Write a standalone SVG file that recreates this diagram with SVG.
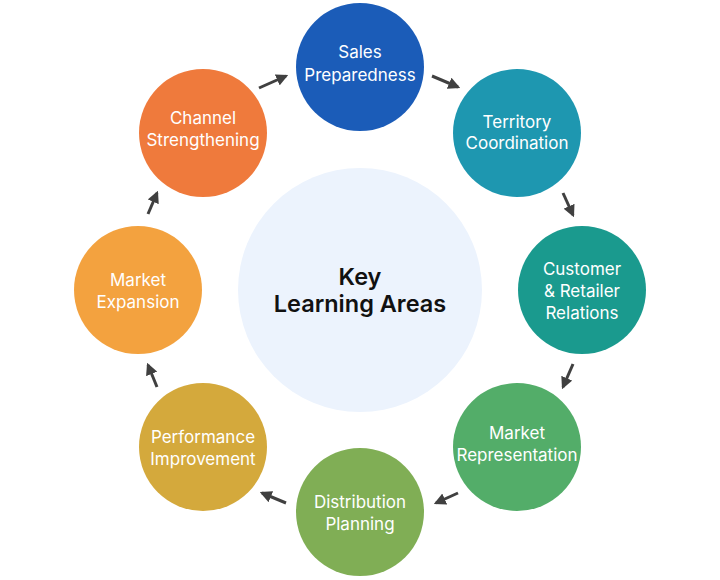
<svg xmlns="http://www.w3.org/2000/svg" width="720" height="580" viewBox="0 0 720 580">
<defs>
<marker id="ah" viewBox="0 0 10 10" refX="8" refY="5" markerWidth="4" markerHeight="4" orient="auto" markerUnits="strokeWidth">
<path d="M0,0 L10,5 L0,10 z" fill="#404040"/>
</marker>
</defs>
<style>
.lbl{font-family:Inter,Roboto,"Liberation Sans",sans-serif;font-size:17px;fill:#ffffff;text-anchor:middle}
.ctr{font-family:Inter,Roboto,"Liberation Sans",sans-serif;font-size:23.5px;font-weight:600;fill:#111111;text-anchor:middle}
.arr{stroke:#404040;stroke-width:3;fill:none;marker-end:url(#ah)}
</style>
<rect width="720" height="580" fill="#ffffff"/>
<g id="center">
<circle cx="360" cy="290" r="122" fill="#ecf3fd"/>
<text class="ctr" x="360" y="285">Key</text>
<text class="ctr" x="360" y="312">Learning Areas</text>
</g>
<g id="sales">
<circle cx="360" cy="67" r="64" fill="#1b5cb8"/>
<text class="lbl" x="360" y="58">Sales</text>
<text class="lbl" x="360" y="81">Preparedness</text>
</g>
<g id="territory">
<circle cx="517" cy="133" r="64" fill="#1e97b0"/>
<text class="lbl" x="517" y="128">Territory</text>
<text class="lbl" x="517" y="149">Coordination</text>
</g>
<g id="customer">
<circle cx="582" cy="290" r="64" fill="#1a9a8e"/>
<text class="lbl" x="582" y="275">Customer</text>
<text class="lbl" x="582" y="297">&amp; Retailer</text>
<text class="lbl" x="582" y="319">Relations</text>
</g>
<g id="representation">
<circle cx="517" cy="447" r="64" fill="#53ad69"/>
<text class="lbl" x="517" y="439">Market</text>
<text class="lbl" x="517" y="461">Representation</text>
</g>
<g id="distribution">
<circle cx="360" cy="512" r="64" fill="#80ae55"/>
<text class="lbl" x="360" y="508">Distribution</text>
<text class="lbl" x="360" y="530">Planning</text>
</g>
<g id="performance">
<circle cx="203" cy="447" r="64" fill="#d4a93c"/>
<text class="lbl" x="203" y="443">Performance</text>
<text class="lbl" x="203" y="465">Improvement</text>
</g>
<g id="expansion">
<circle cx="138" cy="290" r="64" fill="#f3a23f"/>
<text class="lbl" x="138" y="286">Market</text>
<text class="lbl" x="138" y="308">Expansion</text>
</g>
<g id="channel">
<circle cx="203" cy="133" r="64" fill="#ef7a3c"/>
<text class="lbl" x="203" y="124">Channel</text>
<text class="lbl" x="203" y="146">Strengthening</text>
</g>
<g id="connectors">
<line class="arr" x1="432" y1="76" x2="458" y2="87"/>
<line class="arr" x1="563" y1="193" x2="573" y2="215"/>
<line class="arr" x1="573" y1="364" x2="563" y2="387"/>
<line class="arr" x1="458" y1="493" x2="436" y2="503"/>
<line class="arr" x1="286" y1="503" x2="262" y2="493"/>
<line class="arr" x1="157" y1="387" x2="148" y2="365"/>
<line class="arr" x1="148" y1="214" x2="157" y2="193"/>
<line class="arr" x1="259" y1="88" x2="286" y2="76"/>
</g>
</svg>
